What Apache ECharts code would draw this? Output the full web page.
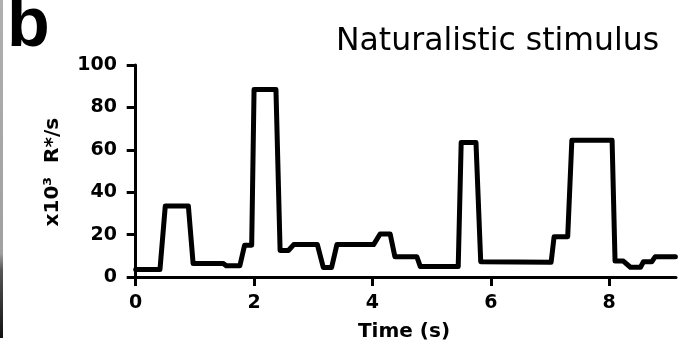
<!DOCTYPE html>
<html>
<head>
<meta charset="utf-8">
<script src="https://cdn.jsdelivr.net/npm/echarts@6/dist/echarts.min.js"></script>
<style>
html,body{margin:0;padding:0;background:#fff;}
#chart{width:686px;height:350px;}
</style>
</head>
<body>
<div id="chart"></div>
<script>
// Time (s) of each corner of the stimulus trace
const timeS = [0.0, 0.41, 0.50, 0.89, 0.97, 1.48, 1.53, 1.76, 1.84, 1.96, 2.00, 2.37, 2.44, 2.58, 2.67, 3.07, 3.17, 3.31, 3.40, 4.02, 4.13, 4.30, 4.38, 4.75, 4.81, 5.45, 5.50, 5.75, 5.83, 7.02, 7.07, 7.30, 7.37, 8.05, 8.10, 8.24, 8.36, 8.53, 8.58, 8.72, 8.78, 9.12];
// Photoisomerization rate (x10^3 R*/s)
const rateK = [3.5, 3.5, 33.5, 33.5, 6.4, 6.4, 5.3, 5.3, 15, 15, 88.5, 88.5, 12.5, 12.5, 15.3, 15.3, 4.5, 4.5, 15.3, 15.3, 20.3, 20.3, 9.6, 9.6, 4.9, 4.9, 63.5, 63.5, 7.2, 7.0, 19, 19, 64.5, 64.5, 7.5, 7.5, 4.6, 4.6, 7.2, 7.2, 9.6, 9.6];
const xTicks = [0, 2, 4, 6, 8];
const yTicks = [0, 20, 40, 60, 80, 100];

const chart = echarts.init(document.getElementById('chart'), null, {renderer: 'canvas'});
const labelFont = {fontFamily: 'DejaVu Sans', fontWeight: 'bold', fontSize: 19, color: '#000'};
const option = {
  animation: false,
  backgroundColor: '#fff',
  grid: {left: 132, right: 10, top: 65, bottom: 70.7, containLabel: false},
  xAxis: {
    type: 'value', min: -0.0625, max: 9.13,
    axisLine: {show: true, lineStyle: {color: '#000', width: 3}},
    axisTick: {show: true, length: 9, customValues: xTicks, lineStyle: {color: '#000', width: 3}},
    axisLabel: Object.assign({customValues: xTicks, margin: 14}, labelFont),
    splitLine: {show: false},
    name: 'Time (s)', nameLocation: 'middle', nameGap: 42,
    nameTextStyle: {fontFamily: 'DejaVu Sans', fontWeight: 'bold', fontSize: 20, color: '#000'}
  },
  yAxis: {
    type: 'value', min: -1.08, max: 100,
    axisLine: {show: true, lineStyle: {color: '#000', width: 3}},
    axisTick: {show: true, length: 9, customValues: yTicks, lineStyle: {color: '#000', width: 3}},
    axisLabel: Object.assign({customValues: yTicks, margin: 15}, labelFont),
    splitLine: {show: false},
    name: 'x10³  R*/s', nameLocation: 'middle', nameGap: 69, nameRotate: 90,
    nameTextStyle: {fontFamily: 'DejaVu Sans', fontWeight: 'bold', fontSize: 20, color: '#000'}
  },
  series: [{
    type: 'line',
    data: timeS.map((t, i) => [t, rateK[i]]),
    showSymbol: false,
    clip: false,
    lineStyle: {color: '#000', width: 5, cap: 'round', join: 'round'}
  }],
  graphic: [
    {type: 'rect', left: 0, top: 0, shape: {width: 3, height: 338}, silent: true,
     style: {fill: new echarts.graphic.LinearGradient(0, 0, 0, 1, [
       {offset: 0, color: '#b0b0b0'}, {offset: 0.75, color: '#a0a0a0'},
       {offset: 0.8, color: '#555'}, {offset: 1, color: '#111'}])}},
    {type: 'text', left: 7, top: -8, silent: true,
     style: {text: 'b', fontFamily: 'Liberation Sans', fontWeight: 'bold', fontSize: 70, fill: '#000'}},
    {type: 'text', left: 336, top: 26, silent: true,
     style: {text: 'Naturalistic stimulus', fontFamily: 'DejaVu Sans', fontSize: 31.5, fill: '#000'}}
  ]
};
chart.setOption(option);
</script>
</body>
</html>
